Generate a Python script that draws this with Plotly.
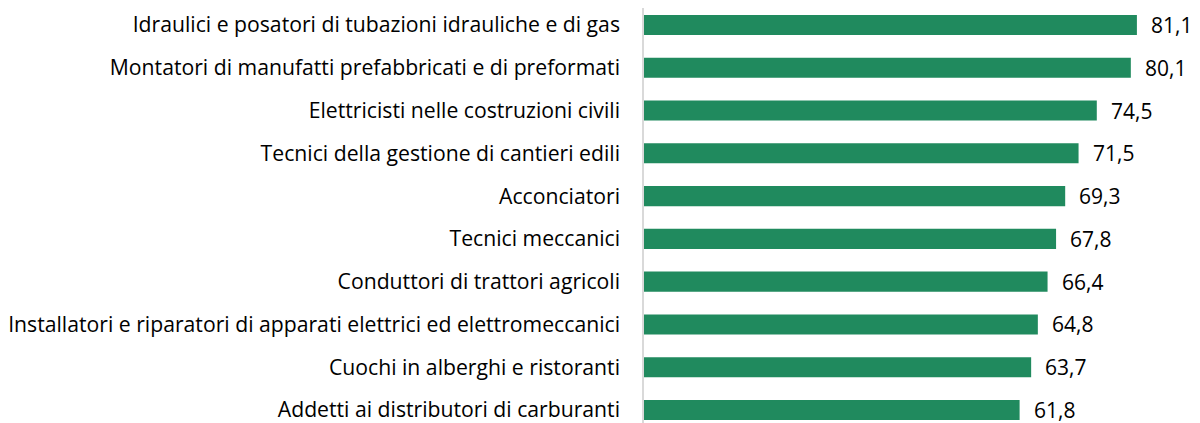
import plotly.graph_objects as go

categories = [
    "Idraulici e posatori di tubazioni idrauliche e di gas",
    "Montatori di manufatti prefabbricati e di preformati",
    "Elettricisti nelle costruzioni civili",
    "Tecnici della gestione di cantieri edili",
    "Acconciatori",
    "Tecnici meccanici",
    "Conduttori di trattori agricoli",
    "Installatori e riparatori di apparati elettrici ed elettromeccanici",
    "Cuochi in alberghi e ristoranti",
    "Addetti ai distributori di carburanti",
]
values = [81.1, 80.1, 74.5, 71.5, 69.3, 67.8, 66.4, 64.8, 63.7, 61.8]

# bottom-to-top order for plotting
cats_r = categories[::-1]
vals_r = values[::-1]
labels_r = [f"{v:.1f}".replace(".", ",") for v in vals_r]

FONT = "Open Sans"
FS = 21.2
fig = go.Figure(go.Bar(
    x=vals_r, y=cats_r, orientation="h",
    marker=dict(color="#208A5E", line=dict(width=0)),
    width=0.47,
    hoverinfo="skip",
))

for v, c, t in zip(vals_r, cats_r, labels_r):
    fig.add_annotation(x=v, y=c, text=t, showarrow=False, xanchor="left",
                       xshift=12, yshift=0,
                       font=dict(family=FONT, size=21, color="#000000"))

fig.update_layout(
    width=1192, height=415,
    margin=dict(l=636, r=9, t=0, b=0),
    paper_bgcolor="white", plot_bgcolor="white",
    showlegend=False,
    font=dict(family=FONT, size=FS, color="#000000"),
    xaxis=dict(range=[0, 90], showgrid=False, zeroline=False, showticklabels=False,
               showline=False, fixedrange=True),
    yaxis=dict(range=[-0.304, 9.397], showgrid=False, zeroline=False,
               showline=True, linecolor="#D9D9D9", linewidth=1.5,
               ticks="", ticklabelstandoff=18,
               tickfont=dict(family=FONT, size=FS, color="#000000"),
               automargin=False),
)

fig.write_html("out.html")
